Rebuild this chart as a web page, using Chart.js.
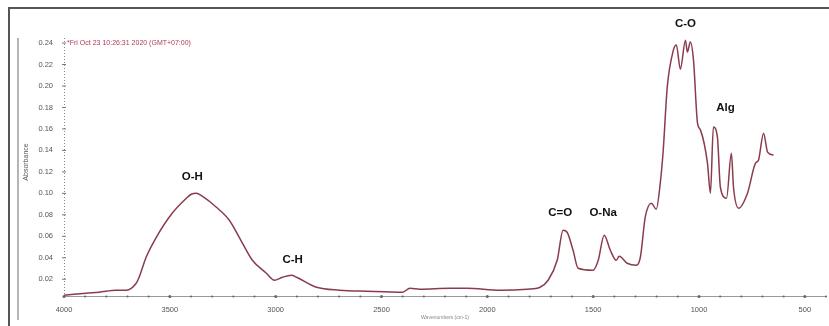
<!DOCTYPE html>
<html>
<head>
<meta charset="utf-8">
<script src="https://cdn.jsdelivr.net/npm/chart.js@4/dist/chart.umd.min.js"></script>
<style>
html,body{margin:0;padding:0;background:#fff;}
#wrap{position:relative;width:829px;height:326px;}
canvas{display:block;}
</style>
</head>
<body>
<div id="wrap"><canvas id="c" width="829" height="326"></canvas></div>
<script>
// ---- data ----
const wavenumbers = [4000,3896,3834,3754,3706,3659,3645,3612,3564,3489,3422,3399,3375,3347,3280,3219,3172,3110,3044,3006,2968,2925,2901,2807,2698,2570,2400,2366,2319,2177,2097,1940,1812,1751,1713,1670,1642,1623,1595,1571,1500,1476,1448,1419,1391,1377,1339,1296,1277,1254,1225,1202,1183,1169,1150,1121,1107,1088,1064,1055,1041,1026,1007,993,960,946,932,913,899,870,847,837,813,771,733,719,695,676,648];
const absorbance = [0.0051,0.0070,0.0079,0.0098,0.0098,0.0163,0.0219,0.0405,0.0591,0.0815,0.0955,0.0992,0.1002,0.0974,0.0871,0.0750,0.0591,0.0377,0.0256,0.0191,0.0219,0.0237,0.0219,0.0125,0.0098,0.0088,0.0079,0.0116,0.0107,0.0116,0.0116,0.0098,0.0107,0.0125,0.0191,0.0377,0.0657,0.0638,0.0470,0.0303,0.0284,0.0377,0.0610,0.0470,0.0377,0.0414,0.0349,0.0330,0.0405,0.0778,0.0908,0.0852,0.1095,0.1402,0.1989,0.2334,0.2381,0.2157,0.2427,0.2316,0.2409,0.2241,0.1654,0.1589,0.1281,0.1002,0.1617,0.1523,0.1057,0.0955,0.1374,0.1057,0.0862,0.1002,0.1281,0.1309,0.1561,0.1384,0.1356];
const xTickLabels = [4000,3500,3000,2500,2000,1500,1000,500];
const yTickLabels = [0.02,0.04,0.06,0.08,0.10,0.12,0.14,0.16,0.18,0.20,0.22,0.24];
const peakLabels = ['O-H','C-H','C=O','O-Na','C-O','Alg'];
const peakLabelX = [3394,2920,1656,1453,1064,875];
const peakLabelY = [0.115,0.0377,0.0815,0.0815,0.2577,0.180];
const headerText = '*Fri Oct 23 10:26:31 2020 (GMT+07:00)';
const xTitle = 'Wavenumbers (cm-1)';
const yTitle = 'Absorbance';

const points = wavenumbers.map((w,i)=>({x:w,y:absorbance[i]}));

const decor = {
  id:'decor',
  beforeDraw(chart){
    const ctx = chart.ctx;
    ctx.save();
    ctx.fillStyle = '#fff';
    ctx.fillRect(0,0,chart.width,chart.height);
    ctx.strokeStyle = '#555';
    ctx.lineWidth = 2;
    ctx.beginPath();
    ctx.moveTo(9,326); ctx.lineTo(9,8); ctx.lineTo(829,8);
    ctx.stroke();
    ctx.strokeStyle = '#b5b5b5';
    ctx.lineWidth = 2;
    ctx.beginPath();
    ctx.moveTo(18,38); ctx.lineTo(18,320);
    ctx.stroke();
    ctx.restore();
  },
  afterDatasetsDraw(chart){
    const ctx = chart.ctx;
    const xs = chart.scales.x, ys = chart.scales.y;
    const a = chart.chartArea;
    ctx.save();
    ctx.strokeStyle = '#999';
    ctx.lineWidth = 1;
    ctx.beginPath();
    ctx.moveTo(a.left, a.bottom+0.5); ctx.lineTo(a.right, a.bottom+0.5);
    ctx.stroke();
    ctx.fillStyle = '#666';
    for(let v=4000; v>=400; v-=100){
      const px = xs.getPixelForValue(v);
      const r = (v%500===0)?1.5:1.1;
      ctx.beginPath(); ctx.arc(px, a.bottom+0.5, r, 0, Math.PI*2); ctx.fill();
    }
    ctx.strokeStyle = '#888';
    ctx.setLineDash([1,2]);
    ctx.beginPath();
    ctx.moveTo(a.left+0.5, a.top); ctx.lineTo(a.left+0.5, a.bottom);
    ctx.stroke();
    ctx.setLineDash([]);
    ctx.strokeStyle = '#777';
    yTickLabels.forEach(v=>{
      const py = ys.getPixelForValue(v);
      ctx.beginPath(); ctx.moveTo(a.left-2, py); ctx.lineTo(a.left+2, py); ctx.stroke();
    });
    ctx.fillStyle = '#b03a55';
    ctx.font = '7px "Liberation Sans", Arial, sans-serif';
    ctx.textBaseline = 'middle';
    ctx.textAlign = 'left';
    ctx.fillText(headerText, a.left+3, ys.getPixelForValue(0.24));
    ctx.fillStyle = '#888';
    ctx.font = '5px "Liberation Sans", Arial, sans-serif';
    ctx.textAlign = 'center';
    ctx.fillText(xTitle, 445, 318);
    ctx.save();
    ctx.translate(26, 162);
    ctx.rotate(-Math.PI/2);
    ctx.font = '7px "Liberation Sans", Arial, sans-serif';
    ctx.fillStyle = '#555';
    ctx.fillText(yTitle, 0, 0);
    ctx.restore();
    ctx.fillStyle = '#111';
    ctx.font = 'bold 11.5px "Liberation Sans", Arial, sans-serif';
    ctx.textAlign = 'center';
    peakLabels.forEach((t,i)=>{
      ctx.fillText(t, xs.getPixelForValue(peakLabelX[i]), ys.getPixelForValue(peakLabelY[i]));
    });
    ctx.restore();
  }
};

new Chart(document.getElementById('c'), {
  type:'line',
  data:{datasets:[{
    data:points,
    borderColor:'#8a3c4c',
    borderWidth:1.5,
    pointRadius:0,
    fill:false,
    cubicInterpolationMode:'monotone'
  }]},
  options:{
    responsive:false,
    animation:false,
    layout:{padding:{left:0,top:38,right:3,bottom:0}},
    plugins:{legend:{display:false},tooltip:{enabled:false}},
    scales:{
      x:{
        type:'linear', reverse:true, min:400, max:4000,
        grid:{display:false, drawTicks:false}, border:{display:false},
        afterBuildTicks(s){ s.ticks = xTickLabels.map(v=>({value:v})); },
        afterFit(s){ s.height = 30; },
        ticks:{color:'#555', font:{size:7.5, family:'"Liberation Sans", Arial, sans-serif'}, padding:9, maxRotation:0, autoSkip:false,
          callback:(v)=>String(v)}
      },
      y:{
        type:'linear', min:0.0044, max:0.2447,
        grid:{display:false}, border:{display:false},
        afterBuildTicks(s){ s.ticks = yTickLabels.map(v=>({value:v})); },
        afterFit(s){ s.width = 64; },
        ticks:{color:'#555', font:{size:7.5, family:'"Liberation Sans", Arial, sans-serif'}, padding:3, autoSkip:false,
          callback:(v)=>v.toFixed(2)}
      }
    }
  },
  plugins:[decor]
});
</script>
</body>
</html>
